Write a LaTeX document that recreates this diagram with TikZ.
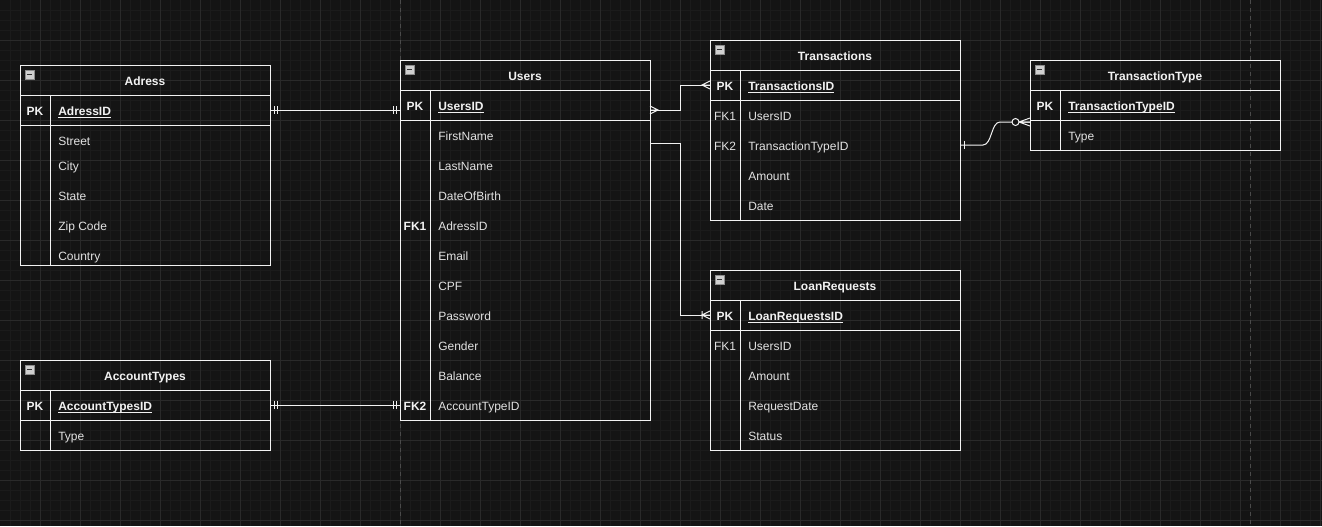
\documentclass[tikz,border=0pt]{standalone}
\usepackage{fontspec}
\setmainfont{Liberation Sans}
\usetikzlibrary{calc}

\definecolor{canvas}{HTML}{141414}
\definecolor{gridminor}{HTML}{1B1B1B}
\definecolor{gridmajor}{HTML}{2A2A2A}
\definecolor{pagebreak}{HTML}{4A4A4A}
\definecolor{ink}{HTML}{F2F2F2}
\definecolor{txt}{HTML}{E2E2E2}
\definecolor{iconfill}{HTML}{CFCFCF}
\definecolor{iconedge}{HTML}{8C8C8C}
\definecolor{iconmark}{HTML}{333333}

% underline drawn at a fixed offset below the baseline
\newcommand\keyline[1]{\setbox0\hbox{#1}\rlap{\rule[-1.7pt]{\wd0}{0.65pt}}\box0}

% one entity table: name, left x, top y, height (px), title
\newcommand\ERbox[5]{%
  \node[tbl, minimum height=#4*0.75pt] (#1) at (#2+125,#3+#4/2) {};
  \draw[rowline] (#2,#3+30) -- ++(250,0);
  \draw[rowline] (#2,#3+60) -- ++(250,0);
  \draw[rowline] (#2+30,#3+30) -- (#2+30,#3+#4);
  \node[titletext] (#1-title) at (#2+125,#3+15) {#5};
  \pic at (#2+5,#3+5) {collapser};
}

\tikzset{
  tbl/.style={draw=ink, line width=0.75pt, minimum width=187.5pt, inner sep=0pt, outer sep=0pt},
  rowline/.style={draw=ink, line width=0.75pt},
  conn/.style={draw=ink, line width=0.75pt},
  basetext/.style={text=txt, font=\fontsize{9}{11}\selectfont, inner sep=0pt, text height=7pt, text depth=2pt, yshift=-1.5pt},
  titletext/.style={basetext, text=ink, font=\fontsize{9}{11}\selectfont\bfseries},
  keytext/.style={basetext, anchor=center},
  boldkey/.style={keytext, text=ink, font=\fontsize{9}{11}\selectfont\bfseries},
  attr/.style={basetext, anchor=west},
  pkattr/.style={attr, text=ink, font=\fontsize{9}{11}\selectfont\bfseries},
  collapser/.pic={
    \draw[fill=iconfill, draw=iconedge, line width=0.5pt] (0,0) rectangle (9,9);
    \draw[iconmark, line width=1pt] (2,4.5) -- (7,4.5);
  },
  mandone/.pic={\draw[conn] (4,-4) -- (4,4) (7,-4) -- (7,4);},
  onebar/.pic={\draw[conn] (4,-4) -- (4,4);},
  crowmany/.pic={\draw[conn] (0,-4) -- (8,0) -- (0,4) (0,0) -- (8,0);},
  onemany/.pic={\draw[conn] (0,-4) -- (8,0) -- (0,4) (0,0) -- (8,0) (8,-4) -- (8,4);},
  zeromany/.pic={\draw[conn] (0,-4) -- (11,0) -- (0,4) (0,0) -- (11,0);
                 \draw[conn, fill=canvas] (14.5,0) circle[radius=3.5];},
}

\begin{document}
\begin{tikzpicture}[x=0.75pt, y=-0.75pt]
  % canvas and grid
  \fill[canvas] (0,0) rectangle (1322,526);
  \useasboundingbox (0,0) rectangle (1322,526);
  \foreach \gx in {10,20,...,1320} \draw[gridminor, line width=0.75pt] (\gx,0) -- (\gx,526);
  \foreach \gy in {10,20,...,520} \draw[gridminor, line width=0.75pt] (0,\gy) -- (1322,\gy);
  \foreach \gx in {40,80,...,1320} \draw[gridmajor, line width=0.75pt] (\gx,0) -- (\gx,526);
  \foreach \gy in {40,80,...,520} \draw[gridmajor, line width=0.75pt] (0,\gy) -- (1322,\gy);
  \draw[pagebreak, line width=0.75pt, dash pattern=on 3pt off 3pt] (400,0) -- (400,526);
  \draw[pagebreak, line width=0.75pt, dash pattern=on 3pt off 3pt] (1250,0) -- (1250,526);

  % ---------- Adress ----------
  \ERbox{adress}{20}{65}{200}{Adress}
  \node[boldkey] (adress-pk) at (35,110) {PK};
  \node[pkattr] (adress-id) at (58,110) {\keyline{AdressID}};
  \node[attr] (adress-street) at (58,140.5) {Street};
  \node[attr] (adress-city) at (58,165.5) {City};
  \node[attr] (adress-state) at (58,195.5) {State};
  \node[attr] (adress-zip) at (58,225.5) {Zip Code};
  \node[attr] (adress-country) at (58,255.5) {Country};

  % ---------- AccountTypes ----------
  \ERbox{acct}{20}{360}{90}{AccountTypes}
  \node[boldkey] (acct-pk) at (35,405) {PK};
  \node[pkattr] (acct-id) at (58,405) {\keyline{AccountTypesID}};
  \node[attr] (acct-type) at (58,435) {Type};

  % ---------- Users ----------
  \ERbox{users}{400}{60}{360}{Users}
  \node[boldkey] (users-pk) at (415,105) {PK};
  \node[pkattr] (users-id) at (438,105) {\keyline{UsersID}};
  \node[attr] (users-first) at (438,135) {FirstName};
  \node[attr] (users-last) at (438,165) {LastName};
  \node[attr] (users-dob) at (438,195) {DateOfBirth};
  \node[boldkey] (users-fk1) at (415,225) {FK1};
  \node[attr] (users-adress) at (438,225) {AdressID};
  \node[attr] (users-email) at (438,255) {Email};
  \node[attr] (users-cpf) at (438,285) {CPF};
  \node[attr] (users-pass) at (438,315) {Password};
  \node[attr] (users-gender) at (438,345) {Gender};
  \node[attr] (users-balance) at (438,375) {Balance};
  \node[boldkey] (users-fk2) at (415,405) {FK2};
  \node[attr] (users-acct) at (438,405) {AccountTypeID};

  % ---------- Transactions ----------
  \ERbox{tx}{710}{40}{180}{Transactions}
  \node[boldkey] (tx-pk) at (725,85) {PK};
  \node[pkattr] (tx-id) at (748,85) {\keyline{TransactionsID}};
  \node[keytext] (tx-fk1) at (725,115) {FK1};
  \node[attr] (tx-user) at (748,115) {UsersID};
  \node[keytext] (tx-fk2) at (725,145) {FK2};
  \node[attr] (tx-type) at (748,145) {TransactionTypeID};
  \node[attr] (tx-amount) at (748,175) {Amount};
  \node[attr] (tx-date) at (748,205) {Date};

  % ---------- TransactionType ----------
  \ERbox{ttype}{1030}{60}{90}{TransactionType}
  \node[boldkey] (ttype-pk) at (1045,105) {PK};
  \node[pkattr] (ttype-id) at (1068,105) {\keyline{TransactionTypeID}};
  \node[attr] (ttype-type) at (1068,135) {Type};

  % ---------- LoanRequests ----------
  \ERbox{loan}{710}{270}{180}{LoanRequests}
  \node[boldkey] (loan-pk) at (725,315) {PK};
  \node[pkattr] (loan-id) at (748,315) {\keyline{LoanRequestsID}};
  \node[keytext] (loan-fk1) at (725,345) {FK1};
  \node[attr] (loan-user) at (748,345) {UsersID};
  \node[attr] (loan-amount) at (748,375) {Amount};
  \node[attr] (loan-date) at (748,405) {RequestDate};
  \node[attr] (loan-status) at (748,435) {Status};

  % ---------- relationships ----------
  % connector ends follow the row centres (text is shifted, rows are not)
  \coordinate (adress-row) at (270,110);
  \coordinate (acct-row) at (270,405);
  \coordinate (tx-row) at (710,85);
  \coordinate (tx-type-row) at (960,145);
  \coordinate (loan-row) at (710,315);

  % Adress -- Users (one to one)
  \draw[conn] (adress-row) -- (users.west |- adress-row);
  \pic at (adress-row) {mandone};
  \pic[rotate=180] at (users.west |- adress-row) {mandone};

  % AccountTypes -- Users (one to one)
  \draw[conn] (acct-row) -- (users.west |- acct-row);
  \pic at (acct-row) {mandone};
  \pic[rotate=180] at (users.west |- acct-row) {mandone};

  % Users -- Transactions (many to many)
  \coordinate (users-tx) at (650,110);
  \coordinate (users-tx-bend) at (680,110);
  \draw[conn] (users-tx) -- (users-tx-bend) |- (tx-row);
  \pic at (users-tx) {crowmany};
  \pic[rotate=180] at (tx-row) {crowmany};

  % Users -- LoanRequests (one to many)
  \coordinate (users-loan) at (650,143);
  \coordinate (users-loan-bend) at (680,143);
  \draw[conn] (users-loan) -- (users-loan-bend) |- (loan-row);
  \pic[rotate=180] at (loan-row) {onemany};

  % Transactions -- TransactionType (one to zero-or-many)
  \coordinate (tt-end) at (1030,122);
  \draw[conn] (tx-type-row) -- (983,145)
      .. controls (992,145) and (991,122) .. (1000,122) -- (tt-end);
  \pic at (tx-type-row) {onebar};
  \pic[rotate=180] at (tt-end) {zeromany};
\end{tikzpicture}
\end{document}
